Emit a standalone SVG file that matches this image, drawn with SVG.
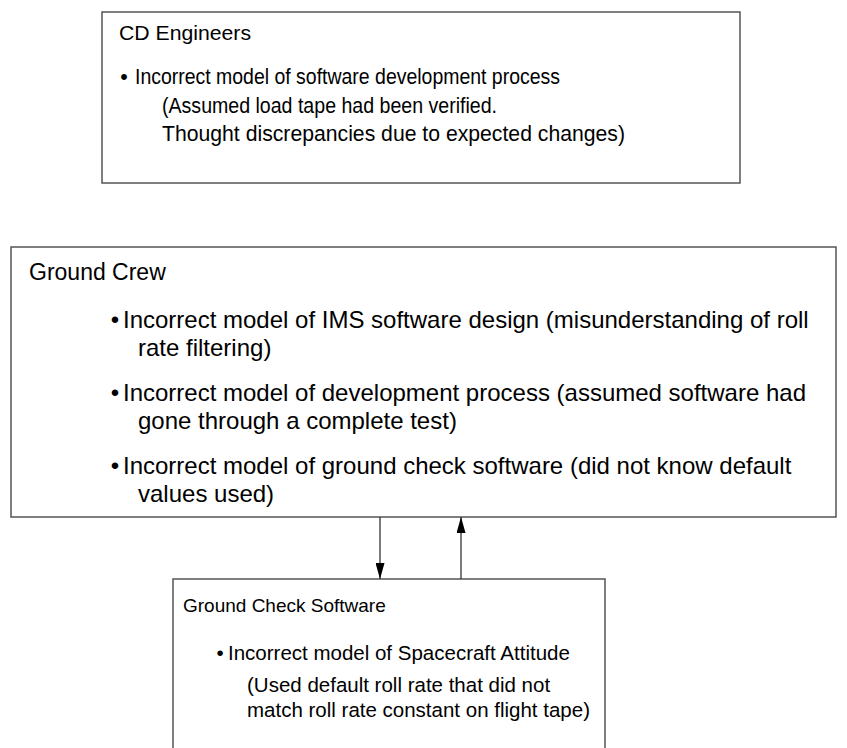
<svg xmlns="http://www.w3.org/2000/svg" width="847" height="748" viewBox="0 0 847 748">
<defs>
<marker id="ah" markerWidth="16" markerHeight="9" refX="16" refY="4.5" orient="auto" markerUnits="userSpaceOnUse" viewBox="0 0 16 9">
<path d="M0,0 L16,4.5 L0,9 Z" fill="#000"/>
</marker>
<style>
.box{fill:#fff;stroke:#555;stroke-width:1.5}
text{font-family:"Liberation Sans",Arial,sans-serif;fill:#000}
.h1{font-size:20.5px}
.t1{font-size:21.5px}
.h2{font-size:23px}
.t2{font-size:24px}
.h3{font-size:19px}
.t3{font-size:20.5px}
.b{text-anchor:middle}
.conn{stroke:#333;stroke-width:1.3;fill:none}
</style>
</defs>
<g id="cd-engineers">
<rect class="box" x="102" y="12" width="638" height="171"/>
<text class="h1" x="119" y="40" textLength="132" lengthAdjust="spacingAndGlyphs">CD Engineers</text>
<text class="t1 b" x="124" y="84">•</text>
<text class="t1" x="135" y="84" textLength="425" lengthAdjust="spacingAndGlyphs">Incorrect model of software development process</text>
<text class="t1" x="162" y="113" textLength="335" lengthAdjust="spacingAndGlyphs">(Assumed load tape had been verified.</text>
<text class="t1" x="162" y="141" textLength="463" lengthAdjust="spacingAndGlyphs">Thought discrepancies due to expected changes)</text>
</g>
<g id="ground-crew">
<rect class="box" x="11" y="247" width="825" height="270"/>
<text class="h2" x="29" y="280">Ground Crew</text>
<text class="t2 b" x="115" y="328">•</text>
<text class="t2" x="123" y="328">Incorrect model of IMS software design (misunderstanding of roll</text>
<text class="t2" x="138" y="356">rate filtering)</text>
<text class="t2 b" x="115" y="401">•</text>
<text class="t2" x="123" y="401">Incorrect model of development process (assumed software had</text>
<text class="t2" x="138" y="429">gone through a complete test)</text>
<text class="t2 b" x="115" y="474">•</text>
<text class="t2" x="123" y="474">Incorrect model of ground check software (did not know default</text>
<text class="t2" x="138" y="502">values used)</text>
</g>
<g id="ground-check-software">
<rect class="box" x="173" y="579" width="432" height="190"/>
<text class="h3" x="183" y="612">Ground Check Software</text>
<text class="t3 b" x="220" y="660">•</text>
<text class="t3" x="228" y="660">Incorrect model of Spacecraft Attitude</text>
<text class="t3" x="247" y="692">(Used default roll rate that did not</text>
<text class="t3" x="247" y="717">match roll rate constant on flight tape)</text>
</g>
<g id="connectors">
<line class="conn" x1="380" y1="517" x2="380" y2="579" marker-end="url(#ah)"/>
<line class="conn" x1="461" y1="579" x2="461" y2="517" marker-end="url(#ah)"/>
</g>
</svg>
